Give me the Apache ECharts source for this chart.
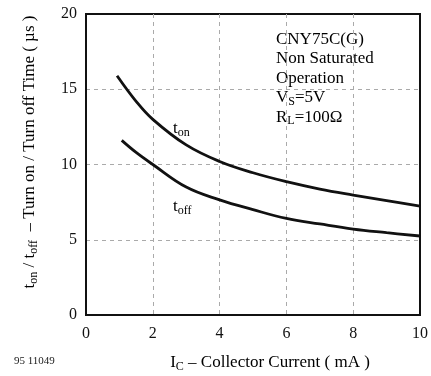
<!DOCTYPE html>
<html>
<head>
<meta charset="utf-8">
<script src="https://cdn.jsdelivr.net/npm/echarts@6/dist/echarts.min.js"></script>
<style>
  html, body { margin: 0; padding: 0; background: #fff; }
  #chart { width: 431px; height: 376px; }
</style>
</head>
<body>
<div id="chart"></div>
<script>
// Collector current (mA) and switching times (µs)
const onCurrent   = [0.93, 1.5, 2, 3, 4, 5, 6, 7, 8, 9, 10];
const turnOnTime  = [15.9, 14.2, 13.0, 11.3, 10.2, 9.45, 8.86, 8.37, 7.97, 7.6, 7.24];
const offCurrent  = [1.07, 1.5, 2, 3, 4, 5, 6, 7, 8, 9, 10];
const turnOffTime = [11.6, 10.8, 10.0, 8.5, 7.65, 7.0, 6.42, 6.05, 5.71, 5.47, 5.25];
const xTicks = [0, 2, 4, 6, 8, 10];
const yTicks = [0, 5, 10, 15, 20];
const conditions = ['CNY75C(G)', 'Non Saturated', 'Operation'];

const serif = '"Liberation Serif", "DejaVu Serif", serif';
const chart = echarts.init(document.getElementById('chart'));

const pairs = (xs, ys) => xs.map((x, i) => [x, ys[i]]);
const rich = (size, sub, lh) => ({
  n: { fontFamily: serif, fontSize: size, color: '#111', lineHeight: lh },
  s: { fontFamily: serif, fontSize: sub, color: '#111', verticalAlign: 'bottom',
       padding: [Math.round(size * 0.45), 0, 0, 0], lineHeight: lh }
});

const gridLine = { show: true, showMinLine: false, showMaxLine: false,
                   lineStyle: { color: '#aaa', type: [4, 4], width: 1 } };

chart.setOption({
  animation: false,
  grid: { left: 86, right: 11, top: 14, bottom: 61, show: true, borderColor: '#111', borderWidth: 2 },
  xAxis: {
    type: 'value', min: xTicks[0], max: xTicks[xTicks.length - 1], interval: 2,
    axisLine: { show: true, lineStyle: { color: '#111', width: 2 } },
    axisTick: { show: false },
    axisLabel: { fontFamily: serif, fontSize: 16, color: '#111', margin: 11 },
    splitLine: gridLine
  },
  yAxis: {
    type: 'value', min: yTicks[0], max: yTicks[yTicks.length - 1], interval: 5,
    axisLine: { show: true, lineStyle: { color: '#111', width: 2 } },
    axisTick: { show: false },
    axisLabel: { fontFamily: serif, fontSize: 16, color: '#111', margin: 9 },
    splitLine: gridLine
  },
  series: [
    {
      name: 'ton', type: 'line', smooth: 0.4, showSymbol: false,
      lineStyle: { color: '#111', width: 2.8 },
      data: pairs(onCurrent, turnOnTime)
    },
    {
      name: 'toff', type: 'line', smooth: 0.4, showSymbol: false,
      lineStyle: { color: '#111', width: 2.8 },
      data: pairs(offCurrent, turnOffTime)
    }
  ],
  graphic: [
    {
      type: 'text', x: 30, y: 152, rotation: Math.PI / 2,
      style: {
        text: '{n|t}{s|on}{n| / t}{s|off}{n|  – Turn on / Turn off Time ( µs )}',
        align: 'center', verticalAlign: 'middle', rich: rich(17, 12, 20)
      }
    },
    {
      type: 'text', x: 270, y: 363,
      style: {
        text: '{n|I}{s|C}{n| – Collector Current ( mA )}',
        align: 'center', verticalAlign: 'middle', rich: rich(17, 12, 20)
      }
    },
    {
      type: 'text', left: 173, top: 119,
      style: { text: '{n|t}{s|on}', rich: rich(17, 12, 20) }
    },
    {
      type: 'text', left: 173, top: 197,
      style: { text: '{n|t}{s|off}', rich: rich(17, 12, 20) }
    },
    {
      type: 'text', left: 276, top: 31,
      style: {
        text: conditions.map(c => '{n|' + c + '}').join('\n') +
              '\n{n|V}{s|S}{n|=5V}\n{n|R}{s|L}{n|=100Ω}',
        rich: rich(17, 12, 19.5)
      }
    },
    {
      type: 'text', left: 14, top: 356,
      style: { text: '95 11049', fontFamily: serif, fontSize: 11, fill: '#222' }
    }
  ]
});
</script>
</body>
</html>
